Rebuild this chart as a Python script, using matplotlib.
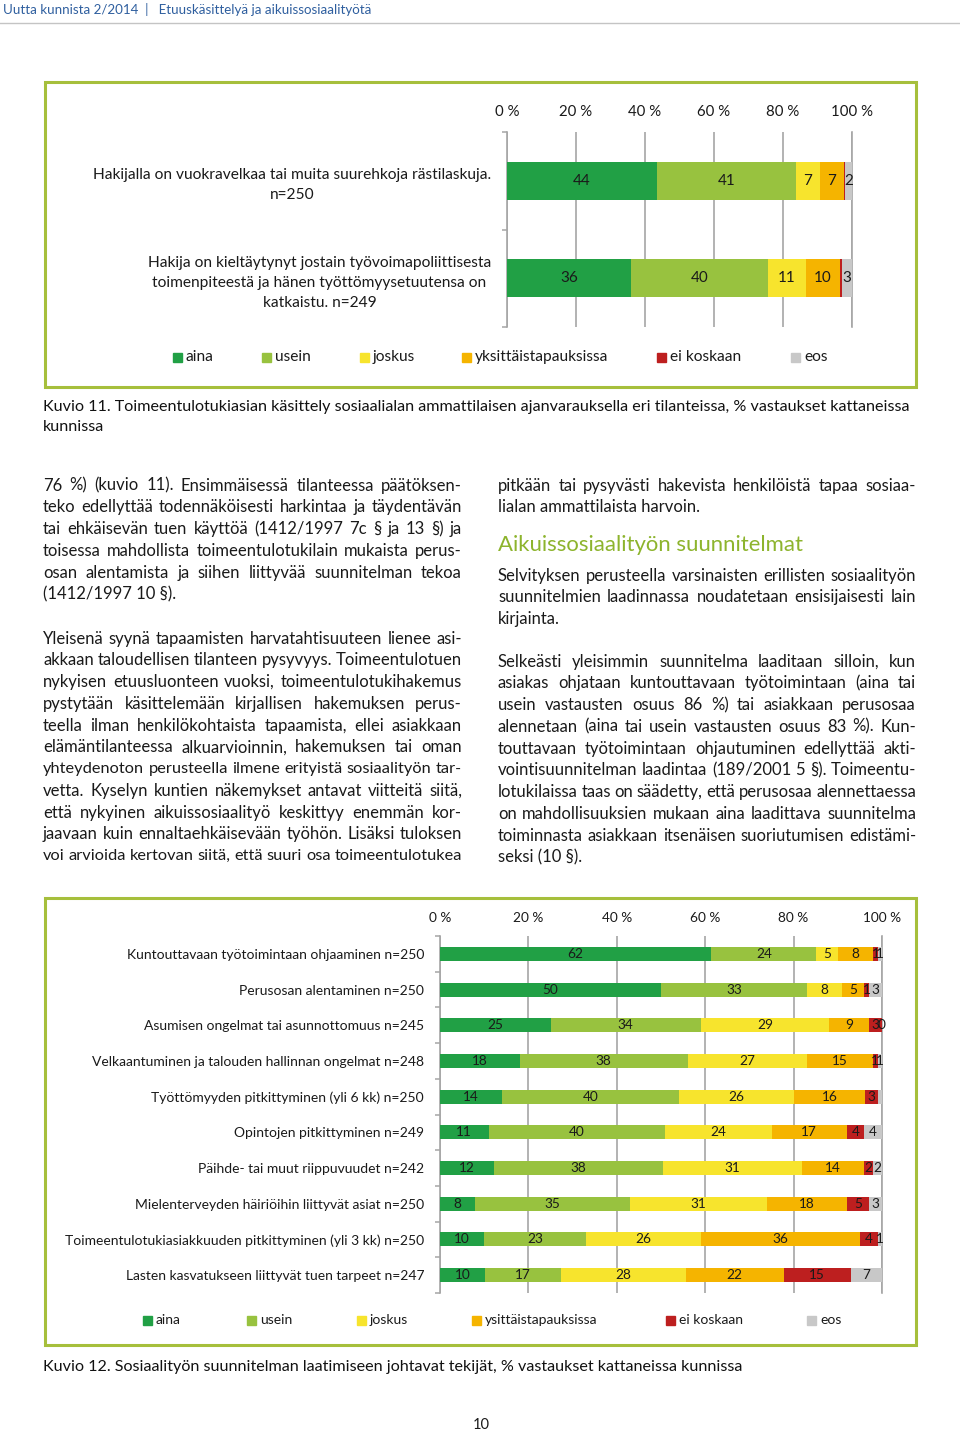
import matplotlib
matplotlib.use("Agg")
import matplotlib.pyplot as plt
from matplotlib.patches import Rectangle
import numpy as np

W, H = 960, 1433
FONT = "Lato"
TEXT = "#1a1a1a"
BOX = "#a6bf3c"
GRID = "#a6a6a6"

# ── data ───────────────────────────────────────────────────────────────
answers_11 = ["aina", "usein", "joskus", "yksittäistapauksissa", "ei koskaan", "eos"]
answers_12 = ["aina", "usein", "joskus", "ysittäistapauksissa", "ei koskaan", "eos"]
answer_colors = ["#21a045", "#98c23f", "#f7e42d", "#f5b400", "#bd1f1f", "#c8c8c8"]
pct_ticks = [0, 20, 40, 60, 80, 100]

k11_rows = [
    "Hakijalla on vuokravelkaa tai muita suurehkoja rästilaskuja.\nn=250",
    "Hakija on kieltäytynyt jostain työvoimapoliittisesta\n"
    "toimenpiteestä ja hänen työttömyysetuutensa on\nkatkaistu. n=249",
]
k11_aina = [44, 36]
k11_usein = [41, 40]
k11_joskus = [7, 11]
k11_yksitt = [7, 10]
k11_ei = [0.5, 0.5]
k11_eos = [2, 3]

k12_rows = [
    "Kuntouttavaan työtoimintaan ohjaaminen n=250",
    "Perusosan alentaminen n=250",
    "Asumisen ongelmat tai asunnottomuus n=245",
    "Velkaantuminen ja talouden hallinnan ongelmat n=248",
    "Työttömyyden pitkittyminen (yli 6 kk) n=250",
    "Opintojen pitkittyminen n=249",
    "Päihde- tai muut riippuvuudet n=242",
    "Mielenterveyden häiriöihin liittyvät asiat n=250",
    "Toimeentulotukiasiakkuuden pitkittyminen (yli 3 kk) n=250",
    "Lasten kasvatukseen liittyvät tuen tarpeet n=247",
]
k12_aina = [62, 50, 25, 18, 14, 11, 12, 8, 10, 10]
k12_usein = [24, 33, 34, 38, 40, 40, 38, 35, 23, 17]
k12_joskus = [5, 8, 29, 27, 26, 24, 31, 31, 26, 28]
k12_yksitt = [8, 5, 9, 15, 16, 17, 14, 18, 36, 22]
k12_ei = [1, 1, 3, 1, 3, 4, 2, 5, 4, 15]
k12_eos = [1, 3, 0, 1, 0.8, 4, 2, 3, 1, 7]

header = "Uutta kunnista 2/2014  |   Etuuskäsittelyä ja aikuissosiaalityötä"
caption_11 = ["Kuvio 11. Toimeentulotukiasian käsittely sosiaalialan ammattilaisen "
              "ajanvarauksella eri tilanteissa, % vastaukset kattaneissa", "kunnissa"]
caption_12 = "Kuvio 12. Sosiaalityön suunnitelman laatimiseen johtavat tekijät, % vastaukset kattaneissa kunnissa"
heading = "Aikuissosiaalityön suunnitelmat"

left_paras = [
    ["76 %) (kuvio 11). Ensimmäisessä tilanteessa päätöksen-",
     "teko edellyttää todennäköisesti harkintaa ja täydentävän",
     "tai ehkäisevän tuen käyttöä (1412/1997 7c § ja 13 §) ja",
     "toisessa mahdollista toimeentulotukilain mukaista perus-",
     "osan alentamista ja siihen liittyvää suunnitelman tekoa",
     "(1412/1997 10 §)."],
    ["Yleisenä syynä tapaamisten harvatahtisuuteen lienee asi-",
     "akkaan taloudellisen tilanteen pysyvyys. Toimeentulotuen",
     "nykyisen etuusluonteen vuoksi, toimeentulotukihakemus",
     "pystytään käsittelemään kirjallisen hakemuksen perus-",
     "teella ilman henkilökohtaista tapaamista, ellei asiakkaan",
     "elämäntilanteessa alkuarvioinnin, hakemuksen tai oman",
     "yhteydenoton perusteella ilmene erityistä sosiaalityön tar-",
     "vetta. Kyselyn kuntien näkemykset antavat viitteitä siitä,",
     "että nykyinen aikuissosiaalityö keskittyy enemmän kor-",
     "jaavaan kuin ennaltaehkäisevään työhön. Lisäksi tuloksen",
     "voi arvioida kertovan siitä, että suuri osa toimeentulotukea "],
]
right_p1 = ["pitkään tai pysyvästi hakevista henkilöistä tapaa sosiaa-",
            "lialan ammattilaista harvoin."]
right_p2 = ["Selvityksen perusteella varsinaisten erillisten sosiaalityön",
            "suunnitelmien laadinnassa noudatetaan ensisijaisesti lain",
            "kirjainta."]
right_p3 = ["Selkeästi yleisimmin suunnitelma laaditaan silloin, kun",
            "asiakas ohjataan kuntouttavaan työtoimintaan (aina tai",
            "usein vastausten osuus 86 %) tai asiakkaan perusosaa",
            "alennetaan (aina tai usein vastausten osuus 83 %). Kun-",
            "touttavaan työtoimintaan ohjautuminen edellyttää akti-",
            "vointisuunnitelman laadintaa (189/2001 5 §). Toimeentu-",
            "lotukilaissa taas on säädetty, että perusosaa alennettaessa",
            "on mahdollisuuksien mukaan aina laadittava suunnitelma",
            "toiminnasta asiakkaan itsenäisen suoriutumisen edistämi-",
            "seksi (10 §)."]

# ── page ───────────────────────────────────────────────────────────────
fig = plt.figure(figsize=(W / 100, H / 100), dpi=100)
page = fig.add_axes([0, 0, 1, 1])
page.set_xlim(0, W)
page.set_ylim(H, 0)
page.axis("off")
renderer = fig.canvas.get_renderer()


def px_axes(x0, y0, x1, y1):
    return fig.add_axes([x0 / W, 1 - y1 / H, (x1 - x0) / W, (y1 - y0) / H])


def text_block(lines, x0, x1, y0, dy, size=12):
    """Write lines as a justified paragraph; the last line is left aligned."""
    for i, line in enumerate(lines):
        y = y0 + i * dy
        if i == len(lines) - 1 and not line.endswith(" "):
            page.text(x0, y, line, fontsize=size, family=FONT, color=TEXT, va="center")
            continue
        words = line.strip().split(" ")
        s = size
        while True:
            items = [page.text(0, y, w, fontsize=s, family=FONT, color=TEXT, va="center")
                     for w in words]
            widths = [t.get_window_extent(renderer).width for t in items]
            gap = (x1 - x0 - sum(widths)) / max(len(words) - 1, 1)
            if gap >= 3.5 or s < 9:
                break
            for t in items:
                t.remove()
            s -= 0.2
        x = x0
        for t, w in zip(items, widths):
            t.set_x(x)
            x += w + gap


def stacked(ax, series, rows, label_size):
    data = np.array(series, dtype=float)
    shares = data / data.sum(axis=0) * 100
    y = np.arange(len(rows))
    left = np.zeros(len(rows))
    for vals, raw, color in zip(shares, data, answer_colors):
        ax.barh(y, vals, left=left, height=0.39, color=color, zorder=3)
        for yi, (l, v, r) in enumerate(zip(left, vals, raw)):
            if 0 < r < 1:
                continue
            ax.text(l + v / 2, yi, f"{r:.0f}", ha="center", va="center",
                    fontsize=label_size, family=FONT, color=TEXT, zorder=4)
        left += vals
    ax.set_xlim(0, 100)
    ax.set_ylim(len(rows) - 0.5, -0.5)
    ax.set_xticks(pct_ticks)
    ax.set_xticklabels([f"{t} %" for t in pct_ticks], family=FONT)
    ax.xaxis.tick_top()
    ax.set_yticks(y)
    ax.set_yticklabels(rows, family=FONT, multialignment="center")
    ax.set_yticks(np.arange(-0.5, len(rows)), minor=True)
    ax.tick_params(axis="y", which="major", length=0, pad=11.5)
    ax.tick_params(axis="y", which="minor", length=3.5, width=1.1, color=GRID)
    ax.grid(axis="x", color=GRID, lw=1.2, zorder=0)
    for s in ["top", "bottom"]:
        ax.spines[s].set_visible(False)
    for s in ["left", "right"]:
        ax.spines[s].set_color(GRID)
        ax.spines[s].set_linewidth(1.2)
    ax.set_facecolor("none")


def legend_row(labels, xs, y, size):
    for lab, color, x in zip(labels, answer_colors, xs):
        page.add_patch(Rectangle((x - 4.5, y - 4.5), 9, 9, color=color))
        page.text(x + 9, y, lab, fontsize=size, family=FONT, color=TEXT, va="center")


# header
page.text(3, 9, header, fontsize=9.6, family=FONT, color="#2f5f9f", va="center")
page.plot([0, W], [23, 23], color="#c4c4c4", lw=1)

# Kuvio 11
page.add_patch(Rectangle((45, 82), 871, 305, fill=False, ec=BOX, lw=2.2))
ax1 = px_axes(507, 132, 852, 327)
stacked(ax1, [k11_aina, k11_usein, k11_joskus, k11_yksitt, k11_ei, k11_eos], k11_rows, 11)
ax1.tick_params(axis="x", length=0, pad=9.5, labelsize=10.8, labelcolor=TEXT)
ax1.tick_params(axis="y", labelsize=11.2, labelcolor=TEXT)
for t in ax1.get_yticklabels():
    t.set_linespacing(1.55)
legend_row(answers_11, [177, 266, 364, 466, 661, 795], 357, 11.2)
page.text(43, 407, caption_11[0], fontsize=11.65, family=FONT, color="#111111", va="center")
page.text(43, 427, caption_11[1], fontsize=11.65, family=FONT, color="#111111", va="center")

# body text
text_block(left_paras[0], 43, 462, 485.5, 21.8)
text_block(left_paras[1], 43, 462, 638.5, 21.75)
text_block(right_p1, 498, 916, 485.5, 21.8)
page.text(498, 545, heading, fontsize=15.9, family=FONT, color="#8db42d", va="center")
text_block(right_p2, 498, 916, 575.5, 21.5)
text_block(right_p3, 498, 916, 661.5, 21.75)

# Kuvio 12
page.add_patch(Rectangle((45, 898), 871, 447, fill=False, ec=BOX, lw=2.2))
ax2 = px_axes(440, 936, 882, 1293)
stacked(ax2, [k12_aina, k12_usein, k12_joskus, k12_yksitt, k12_ei, k12_eos], k12_rows, 9.8)
ax2.tick_params(axis="x", length=0, pad=8.5, labelsize=9.8, labelcolor=TEXT)
ax2.tick_params(axis="y", labelsize=10, labelcolor=TEXT)
legend_row(answers_12, [147, 251, 361, 476, 670, 811], 1320, 10)
page.text(43, 1367, caption_12, fontsize=11.65, family=FONT, color="#111111", va="center")

page.text(481, 1425, "10", fontsize=10.5, family=FONT, color=TEXT, ha="center", va="center")

fig.savefig("out.png", dpi=100)
